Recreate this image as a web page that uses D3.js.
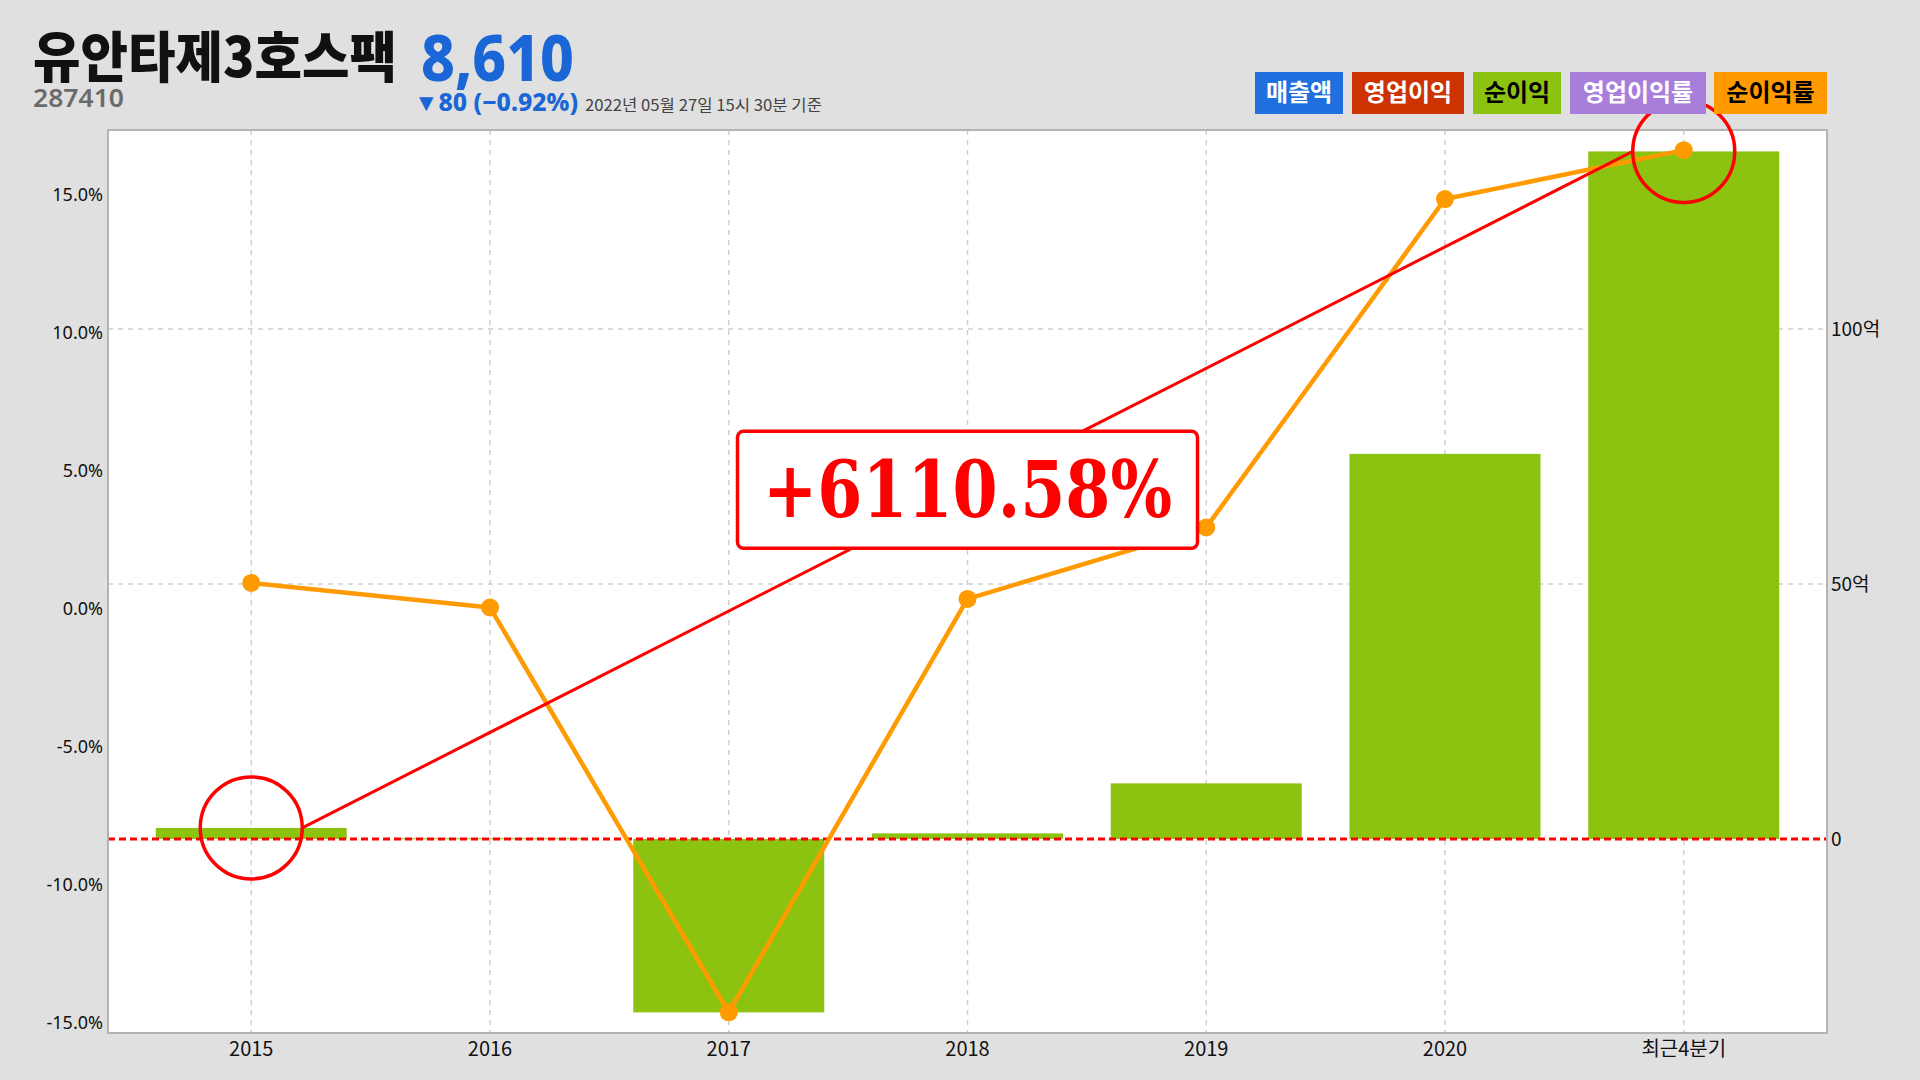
<!DOCTYPE html>
<html><head><meta charset="utf-8">
<script src="https://cdn.jsdelivr.net/npm/d3@7"></script>
<style>html,body{margin:0;padding:0;background:#e0e0e0;}svg{display:block;}</style>
</head><body>
<svg id="chart" width="1920" height="1080"></svg>
<script>
// ---- data ----
const categories = ['2015','2016','2017','2018','2019','2020','최근4분기'];
const netIncome = [2.17, 0.15, -34.0, 1.1, 10.9, 75.5, 134.8];      // 순이익 (억)
const netMargin = [0.93, 0.04, -14.62, 0.35, 2.94, 14.83, 16.6];    // 순이익률 (%)
const leftTicks = [-15, -10, -5, 0, 5, 10, 15];
const rightTicks = [0, 50, 100];
const legendLabels = ['매출액', '영업이익', '순이익', '영업이익률', '순이익률'];
const legendColors = ['#1f6fde', '#cc3300', '#8cc311', '#a87edb', '#ff9a00'];
const legendText = ['#ffffff', '#ffffff', '#000000', '#ffffff', '#000000'];
const titleName = '유안타제3호스팩';
const titleCode = '287410';
const titlePrice = '8,610';
const titleChange = '▼80 (−0.92%)';
const titleDate = '2022년 05월 27일 15시 30분 기준';
const growthLabel = '+6110.58%';
const highlight = ['2015', '최근4분기'];

// ---- layout ----
const svg = d3.select('#chart');
const L = 108, R = 1827, T = 130, B = 1033;
const x = d3.scalePoint().domain(categories).range([L, R]).padding(0.6);
const step = x.step();
const yL = d3.scaleLinear().domain([-15.37, 17.33]).range([B, T]);
const yR = d3.scaleLinear().domain([-38.04, 139.0]).range([B, T]);
const kr = "'Noto Sans CJK KR','Noto Sans',sans-serif";

// plot background
svg.append('rect').attr('x', L).attr('y', T).attr('width', R - L).attr('height', B - T)
  .attr('fill', '#ffffff');

// vertical grid
svg.append('g').selectAll('line').data(categories).join('line')
  .attr('x1', d => x(d)).attr('x2', d => x(d)).attr('y1', T).attr('y2', B)
  .attr('stroke', '#d0d0d0').attr('stroke-width', 1.5).attr('stroke-dasharray', '5,5');
// horizontal grid (right axis)
svg.append('g').selectAll('line').data(rightTicks.filter(d => d !== 0)).join('line')
  .attr('x1', L).attr('x2', R).attr('y1', d => yR(d)).attr('y2', d => yR(d))
  .attr('stroke', '#d0d0d0').attr('stroke-width', 1.5).attr('stroke-dasharray', '5,5');

// bars
const bw = step * 0.8;
svg.append('g').selectAll('rect').data(categories).join('rect')
  .attr('x', d => x(d) - bw / 2)
  .attr('y', (d, i) => Math.min(yR(netIncome[i]), yR(0)))
  .attr('width', bw)
  .attr('height', (d, i) => Math.max(1, Math.abs(yR(netIncome[i]) - yR(0))))
  .attr('fill', '#8cc311');

// zero line (red dashed)
svg.append('line').attr('x1', L).attr('x2', R).attr('y1', yR(0)).attr('y2', yR(0))
  .attr('stroke', '#ff0000').attr('stroke-width', 3).attr('stroke-dasharray', '7,4');

// plot border
svg.append('rect').attr('x', L).attr('y', T).attr('width', R - L).attr('height', B - T)
  .attr('fill', 'none').attr('stroke', '#b3b3b3').attr('stroke-width', 2);

// orange line
const line = d3.line().x((d, i) => x(categories[i])).y(d => yL(d));
svg.append('path').datum(netMargin).attr('d', line)
  .attr('fill', 'none').attr('stroke', '#ff9a00').attr('stroke-width', 4.5)
  .attr('stroke-linejoin', 'round');
svg.append('g').selectAll('circle').data(netMargin).join('circle')
  .attr('cx', (d, i) => x(categories[i])).attr('cy', d => yL(d)).attr('r', 9)
  .attr('fill', '#ff9a00');

// highlight circles + trend line
const r0 = 51;
const hp = highlight.map(c => {
  const i = categories.indexOf(c);
  return [x(c), yR(netIncome[i])];
});
svg.append('line')
  .attr('x1', hp[0][0] + r0).attr('y1', hp[0][1])
  .attr('x2', hp[1][0] - r0).attr('y2', hp[1][1])
  .attr('stroke', '#ff0000').attr('stroke-width', 3);
svg.append('g').selectAll('circle').data(hp).join('circle')
  .attr('cx', d => d[0]).attr('cy', d => d[1]).attr('r', r0)
  .attr('fill', 'none').attr('stroke', '#ff0000').attr('stroke-width', 3.5);

// growth label box, centered on trend line at '2018'
const bx = x('2018');
const x1 = hp[0][0] + r0, y1 = hp[0][1], x2 = hp[1][0] - r0, y2 = hp[1][1];
const by = y1 + (y2 - y1) * (bx - x1) / (x2 - x1);
const boxW = 460, boxH = 117;
svg.append('rect').attr('x', bx - boxW / 2).attr('y', by - boxH / 2)
  .attr('width', boxW).attr('height', boxH).attr('rx', 6)
  .attr('fill', '#ffffff').attr('stroke', '#ff0000').attr('stroke-width', 3.5);
svg.append('text').attr('x', bx).attr('y', by + 27)
  .attr('text-anchor', 'middle')
  .attr('font-family', "'DejaVu Serif',serif").attr('font-weight', 'bold')
  .attr('font-size', 78).attr('fill', '#ff0000')
  .attr('textLength', 409).attr('lengthAdjust', 'spacingAndGlyphs')
  .text(growthLabel);

// left axis labels
svg.append('g').selectAll('text').data(leftTicks).join('text')
  .attr('x', 103).attr('y', d => yL(d)).attr('dy', '0.35em')
  .attr('text-anchor', 'end').attr('font-family', "'Noto Sans',sans-serif")
  .attr('font-size', 18).attr('fill', '#111')
  .text(d => d3.format('.1f')(d).replace('−', '-') + '%');
// right axis labels
svg.append('g').selectAll('text').data(rightTicks).join('text')
  .attr('x', 1831).attr('y', d => yR(d)).attr('dy', '0.35em')
  .attr('text-anchor', 'start').attr('font-family', kr)
  .attr('font-size', 19).attr('fill', '#111')
  .text(d => d === 0 ? '0' : d + '억');
// x axis labels
svg.append('g').selectAll('text').data(categories).join('text')
  .attr('x', d => x(d)).attr('y', 1049).attr('dy', '0.35em')
  .attr('text-anchor', 'middle').attr('font-family', kr)
  .attr('font-size', 20).attr('fill', '#111')
  .text(d => d);

// title block
svg.append('text').attr('x', 33).attr('y', 77)
  .attr('font-family', kr).attr('font-weight', 900).attr('font-size', 55)
  .attr('fill', '#111').attr('textLength', 364).attr('lengthAdjust', 'spacingAndGlyphs')
  .text(titleName);
svg.append('text').attr('x', 33).attr('y', 107)
  .attr('font-family', "'Noto Sans',sans-serif").attr('font-weight', 600).attr('font-size', 25)
  .attr('fill', '#6b6b6b').attr('textLength', 91).attr('lengthAdjust', 'spacingAndGlyphs')
  .text(titleCode);
svg.append('text').attr('x', 421).attr('y', 81)
  .attr('font-family', "'Noto Sans',sans-serif").attr('font-weight', 800).attr('font-size', 64)
  .attr('fill', '#1a66d6').attr('textLength', 153).attr('lengthAdjust', 'spacingAndGlyphs')
  .text(titlePrice);
svg.append('text').attr('x', 414).attr('y', 111)
  .attr('font-family', "'Noto Sans',sans-serif").attr('font-weight', 800).attr('font-size', 24)
  .attr('fill', '#1a66d6').attr('textLength', 164).attr('lengthAdjust', 'spacingAndGlyphs')
  .text(titleChange);
svg.append('text').attr('x', 585).attr('y', 111)
  .attr('font-family', kr).attr('font-size', 16)
  .attr('fill', '#444').attr('textLength', 237).attr('lengthAdjust', 'spacingAndGlyphs')
  .text(titleDate);

// legend
const legX = [1255, 1352, 1473, 1570, 1714];
const legW = [88, 112, 88, 136, 113];
const leg = svg.append('g').selectAll('g').data(legendLabels).join('g');
leg.append('rect').attr('x', (d, i) => legX[i]).attr('y', 72)
  .attr('width', (d, i) => legW[i]).attr('height', 42)
  .attr('fill', (d, i) => legendColors[i]);
leg.append('text').attr('x', (d, i) => legX[i] + legW[i] / 2).attr('y', 93).attr('dy', '0.35em')
  .attr('text-anchor', 'middle').attr('font-family', kr).attr('font-weight', 700)
  .attr('font-size', 24).attr('fill', (d, i) => legendText[i])
  .text(d => d);
</script>
</body></html>
